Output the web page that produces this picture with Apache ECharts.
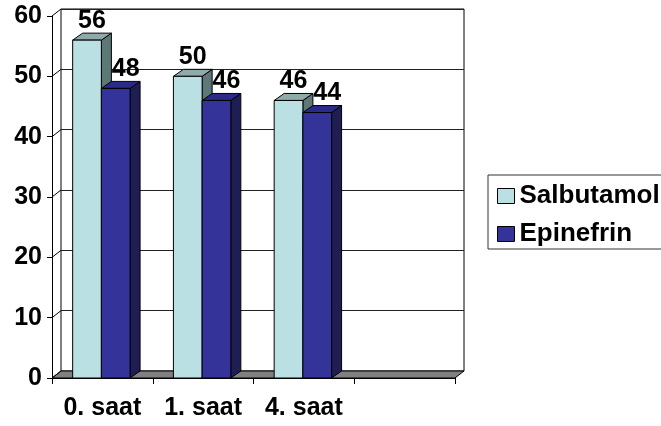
<!DOCTYPE html>
<html>
<head>
<meta charset="utf-8">
<script src="https://cdn.jsdelivr.net/npm/echarts@6/dist/echarts.min.js"></script>
<style>
  html, body { margin: 0; background: #fff; }
  #chart { width: 661px; height: 426px; }
</style>
</head>
<body>
<div id="chart"></div>
<script>
  // data
  var categories = ['0. saat', '1. saat', '4. saat', ''];
  var salbutamol = [56, 50, 46];
  var epinefrin = [48, 46, 44];
  var yTicks = [0, 10, 20, 30, 40, 50, 60];

  var FONT = '"Liberation Sans", Arial, sans-serif';
  var DX = 9, DY = -7;      // wall depth
  var BDX = 10, BDY = -7;   // bar depth

  // 3d-ish bar, slot 0 = left bar, slot 1 = right bar
  function barRenderer(slot, face, topCol, side, labelShift) {
    return function (params, api) {
      var i = api.value(0), v = api.value(1);
      var base = api.coord([i, 0]);
      var top = api.coord([i, v]);
      var w = api.size([1, 0])[0] * 0.285;
      var x0 = base[0] - 1 + (slot - 1) * w;
      var line = { stroke: '#000', lineWidth: 1 };
      return {
        type: 'group',
        children: [
          { type: 'polygon', shape: { points: [[x0 + w, top[1]], [x0 + w + BDX, top[1] + BDY], [x0 + w + BDX, base[1] + BDY], [x0 + w, base[1]]] },
            style: Object.assign({ fill: side }, line) },
          { type: 'polygon', shape: { points: [[x0, top[1]], [x0 + BDX, top[1] + BDY], [x0 + w + BDX, top[1] + BDY], [x0 + w, top[1]]] },
            style: Object.assign({ fill: topCol }, line) },
          { type: 'rect', shape: { x: x0, y: top[1], width: w, height: base[1] - top[1] },
            style: Object.assign({ fill: face }, line) },
          { type: 'text', x: x0 + w / 2 + labelShift, y: top[1] + BDY,
            style: { text: String(v), fill: '#000', font: 'bold 25px ' + FONT, align: 'center', verticalAlign: 'bottom' } }
        ]
      };
    };
  }

  var chart = echarts.init(document.getElementById('chart'));
  chart.setOption({
    animation: false,
    backgroundColor: '#fff',
    grid: [
      { left: 52, top: 16, width: 403, height: 362, show: false },
      { left: 61, top: 9, width: 403, height: 362, show: true, borderColor: '#000', borderWidth: 1, backgroundColor: '#fff' }
    ],
    xAxis: [
      {
        gridIndex: 0, type: 'category', data: categories, boundaryGap: true,
        axisLine: { show: true, lineStyle: { color: '#000', width: 1 } },
        axisTick: { show: true, length: 6, interval: 0, lineStyle: { color: '#000' } },
        axisLabel: { interval: 0, margin: 18, color: '#000', fontSize: 25, fontWeight: 'bold', fontFamily: FONT },
        splitLine: { show: false }
      },
      { gridIndex: 1, type: 'value', min: 0, max: 1, show: false }
    ],
    yAxis: [
      {
        gridIndex: 0, type: 'value', min: 0, max: 60, interval: 10,
        axisLine: { show: true, lineStyle: { color: '#000', width: 1 } },
        axisTick: { show: true, length: 5, lineStyle: { color: '#000' } },
        axisLabel: { margin: 10, color: '#000', fontSize: 25, fontWeight: 'bold', fontFamily: FONT, padding: [4, 0, 0, 0] },
        splitLine: { show: false }
      },
      {
        gridIndex: 1, type: 'value', min: 0, max: 60, interval: 10,
        axisLine: { show: false }, axisTick: { show: false }, axisLabel: { show: false },
        splitLine: { show: true, lineStyle: { color: '#222', width: 1 } }
      }
    ],
    legend: {
      data: ['Salbutamol', 'Epinefrin'],
      orient: 'vertical', left: 488, top: 175,
      padding: [8, 10, 2, 9], itemGap: 12,
      itemWidth: 17, itemHeight: 15, icon: 'rect',
      borderColor: '#333', borderWidth: 1,
      itemStyle: { borderColor: '#000', borderWidth: 1 },
      textStyle: { color: '#000', fontSize: 26, fontWeight: 'bold', fontFamily: FONT, lineHeight: 26 },
      selectedMode: false
    },
    series: [
      {
        // floor
        type: 'custom', xAxisIndex: 0, yAxisIndex: 0, silent: true, z: 1,
        data: [[0, 0]],
        renderItem: function (params, api) {
          var c = params.coordSys;
          var b = c.y + c.height;
          return {
            type: 'polygon',
            shape: { points: [[c.x, b], [c.x + DX, b + DY], [c.x + c.width + DX, b + DY], [c.x + c.width, b]] },
            style: { fill: '#808080', stroke: '#000', lineWidth: 1 }
          };
        }
      },
      {
        // side wall lines
        type: 'custom', xAxisIndex: 0, yAxisIndex: 0, silent: true, z: 1,
        data: yTicks.map(function (v) { return [0, v]; }),
        renderItem: function (params, api) {
          var p = api.coord([0, api.value(1)]);
          var x = params.coordSys.x;
          return {
            type: 'line',
            shape: { x1: x, y1: p[1], x2: x + DX, y2: p[1] + DY },
            style: { stroke: '#000', lineWidth: 1 }
          };
        }
      },
      {
        name: 'Salbutamol', type: 'custom', xAxisIndex: 0, yAxisIndex: 0, z: 2,
        itemStyle: { color: '#BBE0E3' },
        encode: { x: 0, y: 1 },
        data: salbutamol.map(function (v, i) { return [i, v]; }),
        renderItem: barRenderer(0, '#BBE0E3', '#8EAAAA', '#5E7878', 5)
      },
      {
        name: 'Epinefrin', type: 'custom', xAxisIndex: 0, yAxisIndex: 0, z: 3,
        itemStyle: { color: '#333399' },
        encode: { x: 0, y: 1 },
        data: epinefrin.map(function (v, i) { return [i, v]; }),
        renderItem: barRenderer(1, '#333399', '#2A2A88', '#1E1E55', 10)
      }
    ]
  });
</script>
</body>
</html>
